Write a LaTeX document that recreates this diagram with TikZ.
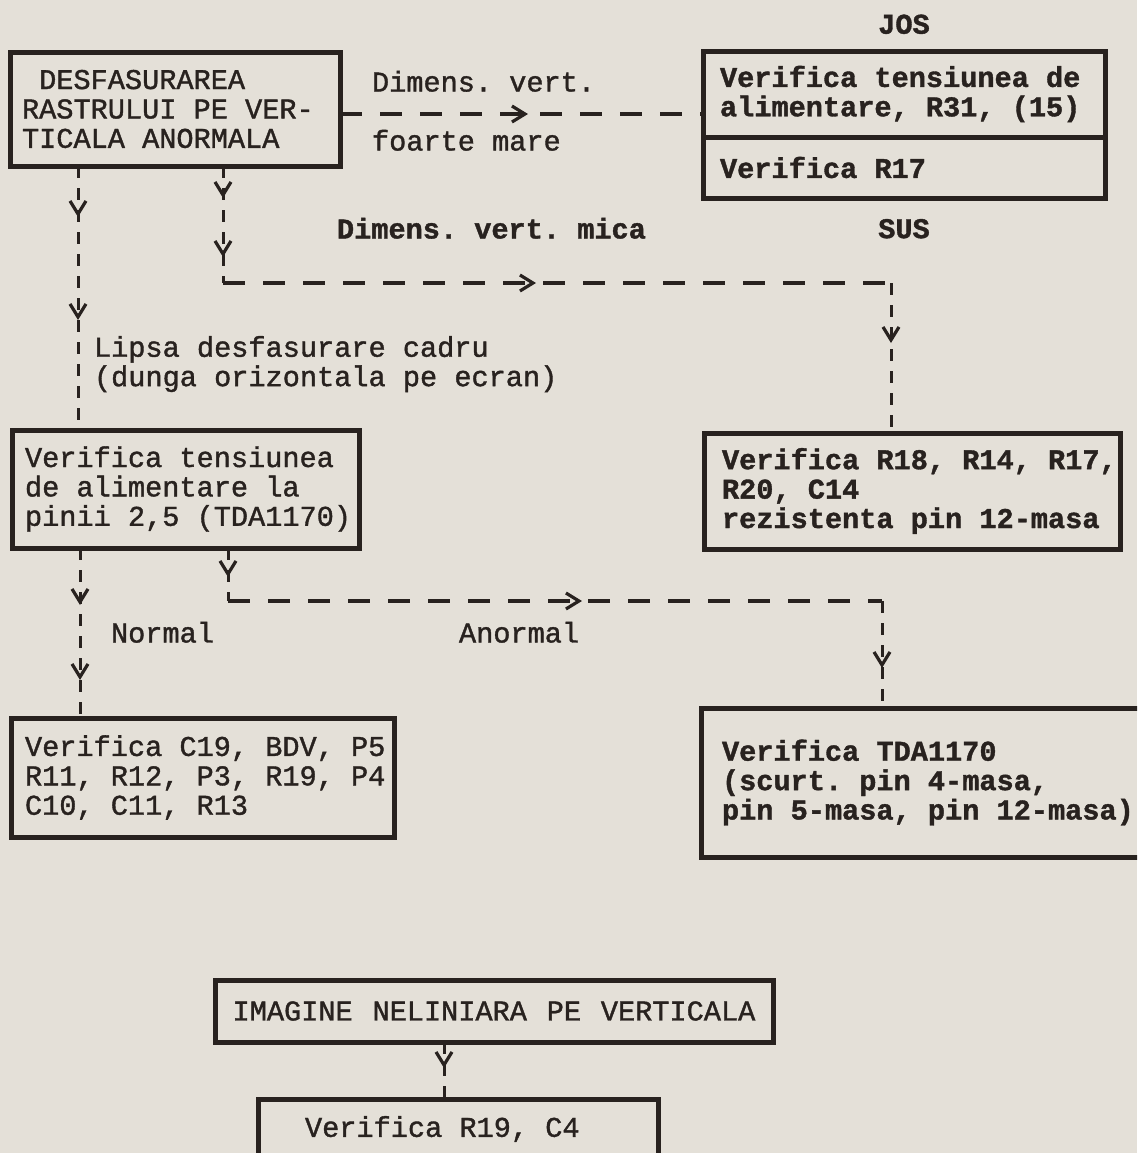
\documentclass[tikz,border=0pt]{standalone}
\usepackage{fontspec}
\newfontfamily\typewr[FakeBold=1.3]{Liberation Mono}
\usetikzlibrary{positioning, calc, arrows.meta, decorations.markings}
\definecolor{paper}{RGB}{228,224,216}
\definecolor{ink}{RGB}{40,34,31}
% full typewriter spaces inside a frame
\newcommand{\typespaces}{\spaceskip=0pt\xspaceskip=0pt\relax}
% left margin inside a frame
\newcommand{\typeindent}[1]{\leftskip=#1\typespaces}

\begin{document}
\begin{tikzpicture}[
		x=0.5pt, y=-0.5pt,
		color=ink,
		vline/.style={line width=1.5pt, dash pattern=on 6pt off 5pt},
		hline/.style={line width=2pt, dash pattern=on 11pt off 9pt},
		arrowat/.style={postaction={decorate, decoration={markings,
			mark=at position #1 with {\arrow{Straight Barb[length=6.5pt, width=8pt, line width=1.6pt]}}}}}
	]
	\tikzstyle{TextNode} = [ %typed text, no frame
		inner sep=0pt,
		outer sep=0pt,
		align=left,
		font=\typewr\frenchspacing\fontsize{14.3pt}{14.7pt}\selectfont
	]
	\tikzstyle{DarkNode} = [
		TextNode,
		font=\typewr\frenchspacing\bfseries\fontsize{14.3pt}{14.7pt}\selectfont
	]
	\tikzstyle{BoxNode} = [
		TextNode,
		draw,
		line width=2.5pt,
		anchor=north west
	]
	\tikzstyle{DarkBoxNode} = [
		BoxNode,
		font=\typewr\frenchspacing\bfseries\fontsize{14.3pt}{14.7pt}\selectfont
	]

	\useasboundingbox (0,0) rectangle (1137,1153);
	\fill[paper] (0,0) rectangle (1137,1153);
	\clip (0,0) rectangle (1137,1153);

	% boxes
	\node (desf) [BoxNode, text width=165pt, minimum height=57pt] at (10,52)
		{\typeindent{6pt}~DESFASURAREA\\RASTRULUI PE VER-\\TICALA ANORMALA\par};
	\node (tensJos) [DarkBoxNode, text width=201pt, minimum height=43pt] at (703,51)
		{\typeindent{8.5pt}Verifica tensiunea de\\alimentare, R31, (15)\par};
	\node (r17Jos) [DarkBoxNode, text width=201pt, minimum height=30.5pt, below=0pt of tensJos]
		{\typeindent{8.5pt}Verifica R17\par};
	\node (tens) [BoxNode, text width=173.5pt, minimum height=59pt] at (12,430)
		{\typeindent{6.5pt}Verifica tensiunea\\de alimentare la\\pinii 2,5 (TDA1170)\par};
	\node (rezBox) [DarkBoxNode, text width=208pt, minimum height=58pt] at (704,433)
		{\typeindent{9pt}Verifica R18, R14, R17,\\R20, C14\\rezistenta pin 12-masa\par};
	\node (normBox) [BoxNode, text width=191.5pt, minimum height=59.5pt] at (11,718)
		{\typeindent{7pt}Verifica C19, BDV, P5\\R11, R12, P3, R19, P4\\C10, C11, R13\par};
	\node (anormBox) [DarkBoxNode, text width=230pt, minimum height=74.5pt] at (701,708)
		{\typeindent{10.5pt}Verifica TDA1170\\(scurt. pin 4-masa,\\pin 5-masa, pin 12-masa)\par};
	\node (imgBox) [BoxNode, align=center, text width=279pt, minimum height=31pt] at (215,980)
		{\typespaces IMAGINE NELINIARA PE VERTICALA\par};
	\node (r19Box) [BoxNode, text width=200pt, minimum height=30pt] at (258,1099)
		{\typeindent{23.5pt}Verifica R19, C4\par};

	% labels
	\node (jos) [DarkNode, above=8.5pt of tensJos] {JOS};
	\node (sus) [DarkNode, below=10.5pt of r17Jos] {SUS};
	\node (dimA) [TextNode, anchor=base west] at (372,91.5) {Dimens. vert.};
	\node (dimB) [TextNode, anchor=base west] at (372,150.5) {foarte mare};
	\node (dimMica) [DarkNode, anchor=base west] at (337,238.5) {Dimens. vert. mica};
	\node (lipsa) [TextNode, anchor=north west] at (94,336) {Lipsa desfasurare cadru\\(dunga orizontala pe ecran)};
	\node (normal) [TextNode, anchor=base west] at (111,642.5) {Normal};
	\node (anormal) [TextNode, anchor=base west] at (459,642.5) {Anormal};

	% branch points
	\coordinate (lipsaTop) at ($(desf.south west)+(68,0)$);
	\coordinate (dimTop) at ($(desf.south west)+(213,0)$);
	\coordinate (dimBend) at (dimTop |- 0,283);
	\coordinate (rezIn) at ($(rezBox.north west)+(187,0)$);
	\coordinate (dimCorner) at (dimBend -| rezIn);
	\coordinate (normTop) at ($(tens.south west)+(68,0)$);
	\coordinate (anTop) at ($(tens.south west)+(216,0)$);
	\coordinate (anBend) at (anTop |- 0,601);
	\coordinate (anIn) at ($(anormBox.north west)+(181,0)$);
	\coordinate (anCorner) at (anBend -| anIn);
	\coordinate (imgOut) at ($(imgBox.south west)+(229,0)$);

	% connectors
	\draw[hline, arrowat=94pt] ($(desf.east)+(0,5)$) -- ($(desf.east -| tensJos.west)+(0,5)$);
	\draw[vline, arrowat=25.5pt, arrowat=77pt] (lipsaTop) -- (lipsaTop |- tens.north);
	\draw[vline, arrowat=16pt, arrowat=45.5pt] (dimTop) -- (dimBend);
	\draw[hline, arrowat=156.5pt] (dimBend) -- (dimCorner);
	\draw[vline, arrowat=30pt] (dimCorner) -- (rezIn);
	\draw[vline, arrowat=28.5pt, arrowat=66pt] (normTop) -- (normTop |- normBox.north);
	\draw[vline, arrowat=14.5pt] (anTop) -- (anBend);
	\draw[hline, arrowat=177pt] (anBend) -- (anCorner);
	\draw[vline, arrowat=33.5pt] (anCorner) -- (anIn);
	\draw[vline, arrowat=13pt] (imgOut) -- (imgOut |- r19Box.north);
\end{tikzpicture}
\end{document}
